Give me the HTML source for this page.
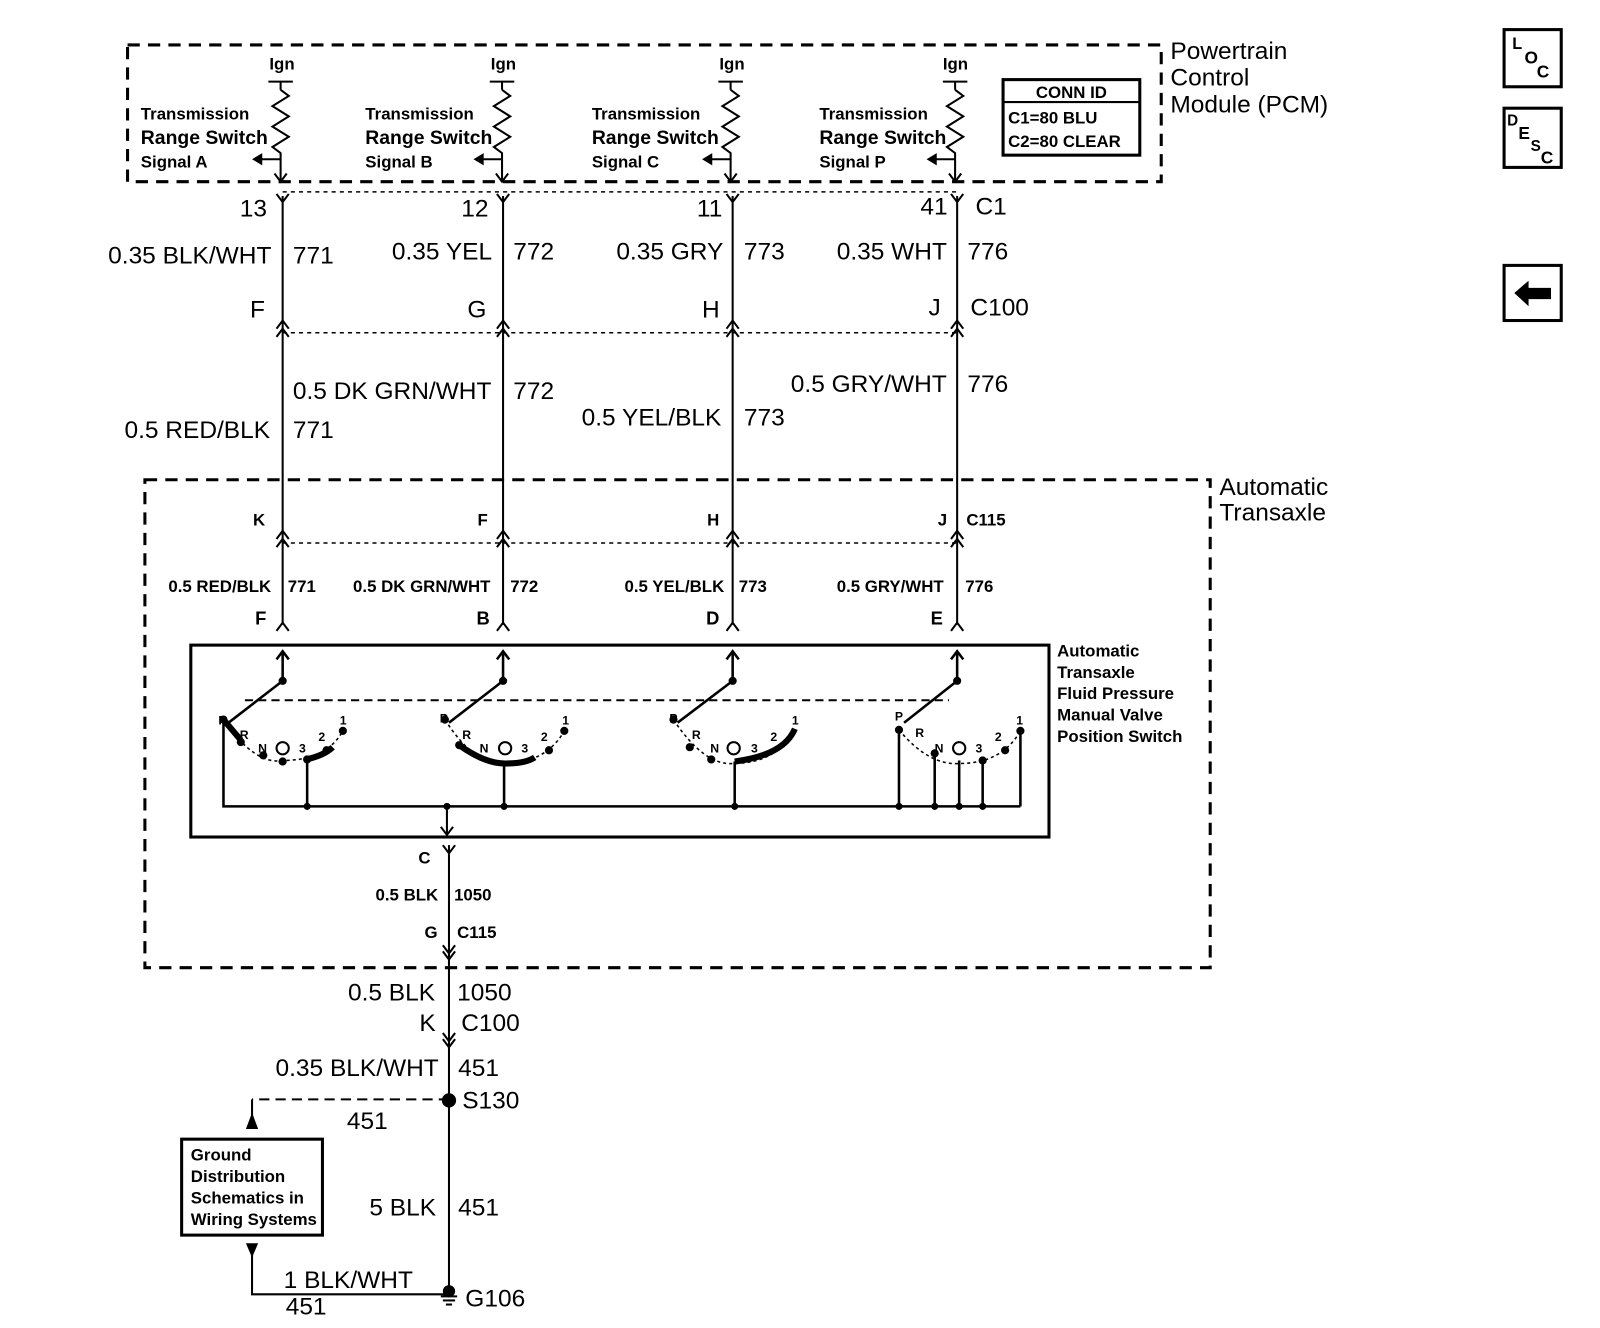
<!DOCTYPE html>
<html><head><meta charset="utf-8"><style>
html,body{margin:0;padding:0;background:#fff}
svg{display:block}
text{font-family:"Liberation Sans",Arial,sans-serif;fill:#000}
.b{font-size:24px}
.s{font-size:16.5px;font-weight:bold}
.m{font-size:17px}
</style></head><body>
<svg width="1600" height="1328" viewBox="0 0 1568 1301" preserveAspectRatio="none" xmlns="http://www.w3.org/2000/svg">
<defs>
<g id="res"><line x1="-12" y1="0" x2="12" y2="0" stroke="#000" stroke-width="2"/><line x1="0" y1="0" x2="0" y2="8" stroke="#000" stroke-width="2"/><polyline points="0,8 8,14 -8,24 8,34 -8,44 8,54 -8,64 0,70 0,98" fill="none" stroke="#000" stroke-width="2"/><line x1="0" y1="76" x2="-22" y2="76" stroke="#000" stroke-width="2"/><polygon points="-28,76 -18,70 -18,82" fill="#000"/><polyline points="-6,90 0,98 6,90" fill="none" stroke="#000" stroke-width="2"/></g>
<g id="fem"><polyline points="-6,-6 0,2 6,-6" fill="none" stroke="#000" stroke-width="2"/></g>
<g id="up"><polyline points="-6,6 0,-2 6,6" fill="none" stroke="#000" stroke-width="2"/></g>
</defs>
<rect x="125" y="44" width="1013" height="134" fill="none" stroke="#000" stroke-width="3" stroke-dasharray="12,8"/>
<text x="1147" y="58" class="b">Powertrain</text><text x="1147" y="84" class="b">Control</text><text x="1147" y="110" class="b">Module (PCM)</text>
<rect x="983" y="78" width="134" height="74" fill="none" stroke="#000" stroke-width="3"/>
<line x1="983" y1="100" x2="1117" y2="100" stroke="#000" stroke-width="2"/>
<text x="1050" y="96" class="s" text-anchor="middle">CONN ID</text>
<text x="988" y="121" class="s">C1=80 BLU</text><text x="988" y="144" class="s">C2=80 CLEAR</text>
<g class="s">
<text x="138" y="117">Transmission</text><text x="138" y="141" style="font-size:19px">Range Switch</text><text x="138" y="164">Signal A</text>
<text x="358" y="117">Transmission</text><text x="358" y="141" style="font-size:19px">Range Switch</text><text x="358" y="164">Signal B</text>
<text x="580" y="117">Transmission</text><text x="580" y="141" style="font-size:19px">Range Switch</text><text x="580" y="164">Signal C</text>
<text x="803" y="117">Transmission</text><text x="803" y="141" style="font-size:19px">Range Switch</text><text x="803" y="164">Signal P</text>
<text x="264" y="68">Ign</text><text x="481" y="68">Ign</text><text x="705" y="68">Ign</text><text x="924" y="68">Ign</text>
</g>
<use href="#res" x="275" y="80"/><use href="#res" x="492" y="80"/><use href="#res" x="716" y="80"/><use href="#res" x="936" y="80"/>
<g stroke="#000" stroke-width="2">
<line x1="277" y1="192" x2="277" y2="612"/><line x1="493" y1="192" x2="493" y2="612"/><line x1="718" y1="192" x2="718" y2="612"/><line x1="938" y1="192" x2="938" y2="612"/>
</g>
<g stroke="#000" stroke-width="1.5" stroke-dasharray="4,4">
<line x1="277" y1="188" x2="938" y2="188"/><line x1="277" y1="326" x2="938" y2="326"/><line x1="277" y1="532" x2="938" y2="532"/>
</g>
<g>
<use href="#fem" x="277" y="196"/><use href="#fem" x="493" y="196"/><use href="#fem" x="718" y="196"/><use href="#fem" x="938" y="196"/>
<use href="#up" x="277" y="316"/><use href="#up" x="493" y="316"/><use href="#up" x="718" y="316"/><use href="#up" x="938" y="316"/>
<use href="#up" x="277" y="324"/><use href="#up" x="493" y="324"/><use href="#up" x="718" y="324"/><use href="#up" x="938" y="324"/>
<use href="#up" x="277" y="522"/><use href="#up" x="493" y="522"/><use href="#up" x="718" y="522"/><use href="#up" x="938" y="522"/>
<use href="#up" x="277" y="530"/><use href="#up" x="493" y="530"/><use href="#up" x="718" y="530"/><use href="#up" x="938" y="530"/>
<use href="#up" x="277" y="612"/><use href="#up" x="493" y="612"/><use href="#up" x="718" y="612"/><use href="#up" x="938" y="612"/>
</g>
<g class="b">
<text x="235" y="212">13</text><text x="452" y="212">12</text><text x="683" y="212">11</text><text x="902" y="210">41</text><text x="956" y="210">C1</text>
<text x="106" y="258">0.35 BLK/WHT</text><text x="287" y="258">771</text>
<text x="384" y="254">0.35 YEL</text><text x="503" y="254">772</text>
<text x="604" y="254">0.35 GRY</text><text x="729" y="254">773</text>
<text x="820" y="254">0.35 WHT</text><text x="948" y="254">776</text>
<text x="245" y="311">F</text><text x="458" y="311">G</text><text x="688" y="311">H</text><text x="910" y="309">J</text><text x="951" y="309">C100</text>
<text x="287" y="391">0.5 DK GRN/WHT</text><text x="503" y="391">772</text>
<text x="775" y="384">0.5 GRY/WHT</text><text x="948" y="384">776</text>
<text x="570" y="417">0.5 YEL/BLK</text><text x="729" y="417">773</text>
<text x="122" y="429">0.5 RED/BLK</text><text x="287" y="429">771</text>
</g>
<rect x="142" y="470" width="1044" height="478" fill="none" stroke="#000" stroke-width="3" stroke-dasharray="12,8"/>
<text x="1195" y="485" class="b">Automatic</text><text x="1195" y="510" class="b">Transaxle</text>
<g class="s">
<text x="248" y="515">K</text><text x="468" y="515">F</text><text x="693" y="515">H</text><text x="919" y="515">J</text><text x="947" y="515">C115</text>
<text x="165" y="580">0.5 RED/BLK</text><text x="282" y="580">771</text>
<text x="346" y="580">0.5 DK GRN/WHT</text><text x="500" y="580">772</text>
<text x="612" y="580">0.5 YEL/BLK</text><text x="724" y="580">773</text>
<text x="820" y="580">0.5 GRY/WHT</text><text x="946" y="580">776</text>
<text x="250" y="612" style="font-size:18px">F</text><text x="467" y="612" style="font-size:18px">B</text><text x="692" y="612" style="font-size:18px">D</text><text x="912" y="612" style="font-size:18px">E</text>
<text x="1036" y="643">Automatic</text><text x="1036" y="664">Transaxle</text><text x="1036" y="685">Fluid Pressure</text><text x="1036" y="706">Manual Valve</text><text x="1036" y="727">Position Switch</text>
</g>
<rect x="187" y="632" width="841" height="188" fill="none" stroke="#000" stroke-width="3"/>
<line x1="240" y1="686" x2="930" y2="686" stroke="#000" stroke-width="2" stroke-dasharray="8,5"/>
<g stroke="#000" stroke-width="2.5" fill="none">
<line x1="277" y1="640" x2="277" y2="667"/><polyline points="271,646 277,638 283,646"/>
<line x1="277" y1="667" x2="224" y2="708"/>
<path d="M219,705 Q250,750 277,745 Q320,745 336,716" stroke-dasharray="3,3" stroke-width="1.5"/>
<path d="M219,705 L236,725" stroke-width="6"/><path d="M300,744 Q318,740 326,732" stroke-width="6"/>
<polyline points="219,705 219,790 1000,790"/><line x1="301" y1="744" x2="301" y2="790"/>
<line x1="493" y1="640" x2="493" y2="667"/><polyline points="487,646 493,638 499,646"/>
<line x1="493" y1="667" x2="440" y2="708"/>
<path d="M436,705 Q465,750 493,748 Q535,748 553,716" stroke-dasharray="3,3" stroke-width="1.5"/>
<path d="M450,730 Q475,748 495,748 Q515,748 524,742" stroke-width="6"/>
<line x1="494" y1="748" x2="494" y2="790"/>
<line x1="718" y1="640" x2="718" y2="667"/><polyline points="712,646 718,638 724,646"/>
<line x1="718" y1="667" x2="664" y2="708"/>
<path d="M660,705 Q690,750 718,748 Q760,748 779,716" stroke-dasharray="3,3" stroke-width="1.5"/>
<path d="M720,746 Q768,740 779,714" stroke-width="6"/>
<line x1="720" y1="746" x2="720" y2="790"/>
<line x1="938" y1="640" x2="938" y2="667"/><polyline points="932,646 938,638 944,646"/>
<line x1="938" y1="667" x2="886" y2="708"/>
<path d="M881,715 Q910,750 940,748 Q982,748 1000,716" stroke-dasharray="3,3" stroke-width="1.5"/>
<line x1="881" y1="715" x2="881" y2="790"/><line x1="916" y1="738" x2="916" y2="790"/><line x1="940" y1="745" x2="940" y2="790"/><line x1="963" y1="745" x2="963" y2="790"/><line x1="1000" y1="716" x2="1000" y2="790"/>
</g>
<g fill="#000">
<circle cx="277" cy="667" r="4"/><circle cx="493" cy="667" r="4"/><circle cx="718" cy="667" r="4"/><circle cx="938" cy="667" r="4"/>
<circle cx="219" cy="705" r="4"/><circle cx="236" cy="727" r="4"/><circle cx="258" cy="740" r="4"/><circle cx="277" cy="746" r="4"/><circle cx="301" cy="744" r="4"/><circle cx="320" cy="735" r="4"/><circle cx="336" cy="716" r="4"/>
<circle cx="436" cy="705" r="4"/><circle cx="450" cy="730" r="4"/><circle cx="538" cy="735" r="4"/><circle cx="553" cy="716" r="4"/>
<circle cx="660" cy="705" r="4"/><circle cx="676" cy="732" r="4"/><circle cx="697" cy="744" r="4"/>
<circle cx="881" cy="715" r="4"/><circle cx="916" cy="738" r="4"/><circle cx="963" cy="745" r="4"/><circle cx="985" cy="735" r="4"/><circle cx="1000" cy="716" r="4"/>
<circle cx="301" cy="790" r="3.5"/><circle cx="494" cy="790" r="3.5"/><circle cx="720" cy="790" r="3.5"/><circle cx="881" cy="790" r="3.5"/><circle cx="916" cy="790" r="3.5"/><circle cx="940" cy="790" r="3.5"/><circle cx="963" cy="790" r="3.5"/><circle cx="438" cy="790" r="3.5"/>
</g>
<g fill="none" stroke="#000" stroke-width="2"><circle cx="277" cy="733" r="6"/><circle cx="495" cy="733" r="6"/><circle cx="719" cy="733" r="6"/><circle cx="940" cy="733" r="6"/></g>
<g class="s" style="font-size:12px">
<text x="214" y="710">P</text><text x="235" y="724">R</text><text x="253" y="737">N</text><text x="293" y="737">3</text><text x="312" y="726">2</text><text x="333" y="710">1</text>
<text x="431" y="708">P</text><text x="453" y="724">R</text><text x="470" y="737">N</text><text x="511" y="737">3</text><text x="530" y="726">2</text><text x="551" y="710">1</text>
<text x="656" y="708">P</text><text x="678" y="724">R</text><text x="696" y="737">N</text><text x="736" y="737">3</text><text x="755" y="726">2</text><text x="776" y="710">1</text>
<text x="877" y="706">P</text><text x="897" y="722">R</text><text x="916" y="737">N</text><text x="956" y="737">3</text><text x="975" y="726">2</text><text x="996" y="710">1</text>
</g>
<g stroke="#000" stroke-width="2" fill="none">
<line x1="438" y1="790" x2="438" y2="818"/><polyline points="432,810 438,818 444,810"/>
<line x1="440" y1="828" x2="440" y2="1268"/>
<polyline points="434,828 440,836 446,828"/>
<polyline points="434,926 440,934 446,926"/><polyline points="434,932 440,940 446,932"/>
<polyline points="434,1012 440,1020 446,1012"/><polyline points="434,1018 440,1026 446,1018"/>
<line x1="440" y1="1077" x2="247" y2="1077" stroke-dasharray="10,6"/>
<line x1="247" y1="1077" x2="247" y2="1098"/>
<rect x="178" y="1116" width="138" height="94" stroke-width="3"/>
<polyline points="247,1230 247,1268 440,1268"/>
<line x1="432" y1="1270" x2="448" y2="1270"/><line x1="434" y1="1274" x2="446" y2="1274"/><line x1="437" y1="1278" x2="443" y2="1278"/>
</g>
<polygon points="247,1090 241,1106 253,1106" fill="#000"/>
<polygon points="247,1232 241,1218 253,1218" fill="#000"/>
<circle cx="440" cy="1078" r="7" fill="#000"/><circle cx="440" cy="1265" r="6" fill="#000"/>
<g class="s">
<text x="410" y="846">C</text><text x="368" y="882">0.5 BLK</text><text x="445" y="882">1050</text>
<text x="416" y="919">G</text><text x="448" y="919">C115</text>
<text x="187" y="1137">Ground</text><text x="187" y="1158">Distribution</text><text x="187" y="1179">Schematics in</text><text x="187" y="1200">Wiring Systems</text>
</g>
<g class="b">
<text x="341" y="980">0.5 BLK</text><text x="448" y="980">1050</text>
<text x="411" y="1010">K</text><text x="452" y="1010">C100</text>
<text x="270" y="1054">0.35 BLK/WHT</text><text x="449" y="1054">451</text>
<text x="453" y="1086">S130</text><text x="340" y="1106">451</text>
<text x="362" y="1191">5 BLK</text><text x="449" y="1191">451</text>
<text x="278" y="1262">1 BLK/WHT</text><text x="280" y="1288">451</text>
<text x="456" y="1280">G106</text>
</g>
<g stroke="#000" stroke-width="3" fill="none">
<rect x="1474" y="29" width="56" height="56"/><rect x="1474" y="106" width="56" height="58"/><rect x="1474" y="260" width="56" height="54"/>
</g>
<g style="font-weight:bold">
<text x="1482" y="48" style="font-size:16px">L</text><text x="1494" y="62" style="font-size:17px">O</text><text x="1506" y="76" style="font-size:17px">C</text>
<text x="1477" y="123" style="font-size:15px">D</text><text x="1488" y="136" style="font-size:17px">E</text><text x="1500" y="148" style="font-size:15px">S</text><text x="1510" y="160" style="font-size:17px">C</text>
</g>
<polygon points="1484,287 1498,275 1498,282 1520,282 1520,293 1498,293 1498,300" fill="#000"/>
</svg>
</body></html>
